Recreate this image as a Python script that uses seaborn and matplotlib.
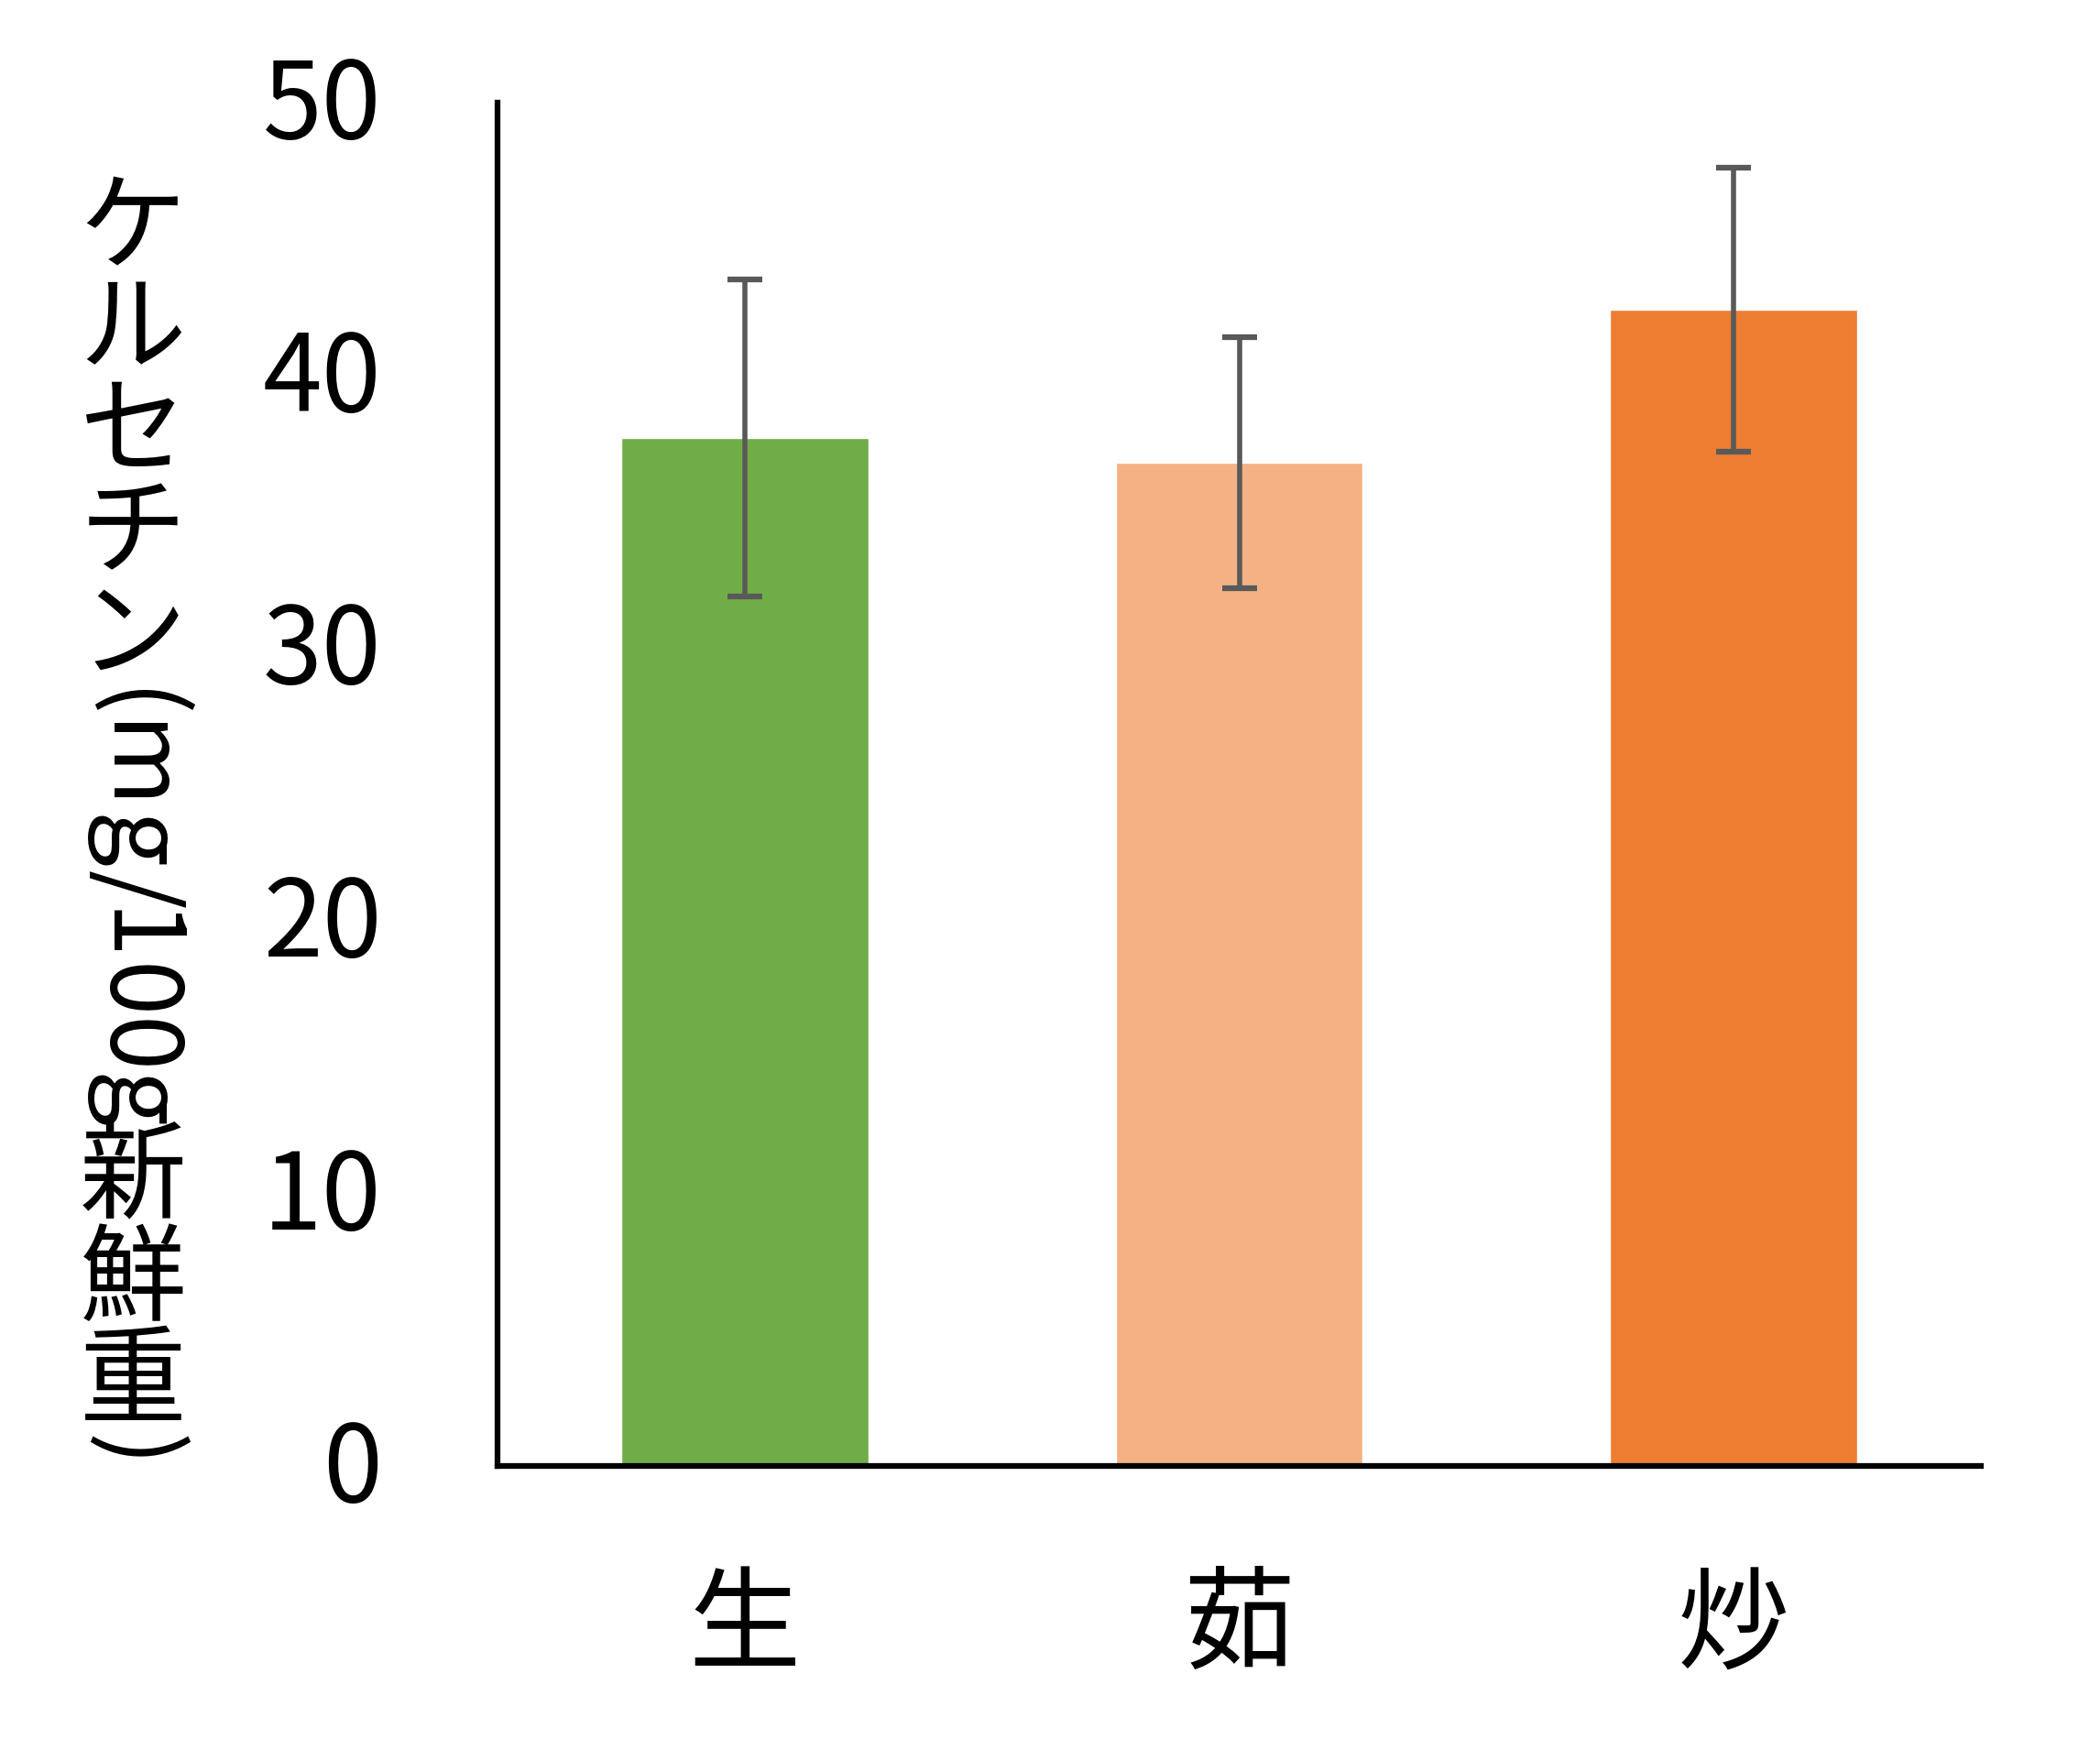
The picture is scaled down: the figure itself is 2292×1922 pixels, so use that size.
import matplotlib
matplotlib.use('Agg')
import matplotlib.pyplot as plt
import seaborn as sns
import pandas as pd
from matplotlib.font_manager import FontProperties
from matplotlib.transforms import IdentityTransform, ScaledTranslation

# data
categories = ['生', '茹', '炒']
quercetin = [37.7, 36.8, 42.4]
quercetin_err = [5.8, 4.6, 5.2]
bar_colors = ['#70AD47', '#F4B183', '#ED7D31']
y_ticks = [0, 10, 20, 30, 40, 50]
y_label = 'ケルセチン(mg/100g新鮮重)'

sns.set_theme(style='white')
plt.rcParams['font.family'] = ['Noto Sans CJK JP', 'DejaVu Sans']

W, H = 2292, 1922
fig = plt.figure(figsize=(W / 100, H / 100), dpi=100)
ax = fig.add_axes([543 / W, 1 - 1600 / H, (2162 - 543) / W, (1600 - 112) / H])

df = pd.DataFrame({'method': categories, 'value': quercetin})
sns.barplot(data=df, x='method', y='value', hue='method', palette=bar_colors,
            width=0.5, saturation=1, legend=False, ax=ax)
ax.errorbar(range(len(categories)), quercetin, yerr=quercetin_err, fmt='none',
            ecolor='#595959', elinewidth=4, capsize=14, capthick=4.5, zorder=3)

ax.set_xlim(-0.5, len(categories) - 0.5)
ax.set_ylim(0, 50)
ax.set_yticks(y_ticks)
ax.tick_params(axis='y', length=0, pad=91, labelsize=84, labelcolor='black')
ax.tick_params(axis='x', length=0, pad=83, labelsize=88, labelcolor='black')
ax.set_xlabel('')
ax.set_ylabel('')
# nudge the y tick labels up a little
for lbl in ax.get_yticklabels():
    lbl.set_transform(lbl.get_transform() + ScaledTranslation(0, 0.07, fig.dpi_scale_trans))
for side in ['top', 'right']:
    ax.spines[side].set_visible(False)
for side in ['left', 'bottom']:
    ax.spines[side].set_color('black')
    ax.spines[side].set_linewidth(4.5)

# vertical y label: CJK upright, latin glyphs turned clockwise
fig.canvas.draw()
renderer = fig.canvas.get_renderer()
fp_latin = FontProperties(family=['Noto Sans CJK JP'], size=78)
fp_cjk = FontProperties(family=['Noto Sans CJK JP'], size=84)
fp_cjk_step = FontProperties(family=['Noto Sans CJK JP'], size=80)


def advance(c, fp):
    w1, _, _ = renderer.get_text_width_height_descent('|' + c + '|', fp, ismath=False)
    w0, _, _ = renderer.get_text_width_height_descent('||', fp, ismath=False)
    return w1 - w0


cursor = H - 196
for c in y_label:
    cjk = ord(c) > 0x2E80
    a = advance(c, fp_cjk_step if cjk else fp_latin)
    fig.text(145, cursor - a / 2, c, transform=IdentityTransform(),
             rotation=0 if cjk else -90, ha='center', va='center',
             fontproperties=fp_cjk if cjk else fp_latin, color='black')
    cursor -= a

fig.savefig('out.png', dpi=100, facecolor='white')
